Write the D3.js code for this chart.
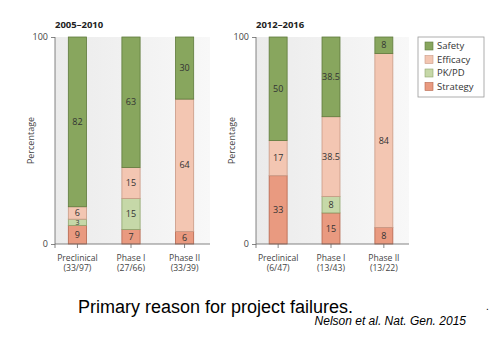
<!DOCTYPE html>
<html>
<head>
<meta charset="utf-8">
<script src="https://cdn.jsdelivr.net/npm/d3@7"></script>
<style>
  body { margin: 0; background: #fff; }
  svg { display: block; }
</style>
</head>
<body>
<div id="chart"></div>
<script>
// reasons, bottom to top of each bar
var reasons = ["Strategy", "PK/PD", "Efficacy", "Safety"];
var legendOrder = ["Safety", "Efficacy", "PK/PD", "Strategy"];
var colors = ["#e99a80", "#c6d8a8", "#f3c6b2", "#88a65e"];
var strokes = ["#b5654c", "#8ea46c", "#c99a86", "#5f7a3c"];

var phases = ["Preclinical", "Phase I", "Phase II"];

var titles = ["2005\u20132010", "2012\u20132016"];
var counts2005 = ["(33/97)", "(27/66)", "(33/39)"];
var counts2012 = ["(6/47)", "(13/43)", "(13/22)"];

// percentages per phase: [Strategy, PK/PD, Efficacy, Safety]
var values2005 = [[9, 3, 6, 82], [7, 15, 15, 63], [6, 0, 64, 30]];
var values2012 = [[33, 0, 17, 50], [15, 8, 38.5, 38.5], [8, 0, 84, 8]];

var yTicks = [0, 100];

var W = 489, H = 344;
var svg = d3.select("#chart").append("svg").attr("width", W).attr("height", H);

var defs = svg.append("defs");
var grad = defs.append("linearGradient").attr("id", "bg").attr("x1", 0).attr("x2", 1);
grad.append("stop").attr("offset", 0).attr("stop-color", "#ebebeb");
grad.append("stop").attr("offset", 1).attr("stop-color", "#f8f8f8");

var font = "'Open Sans', 'DejaVu Sans', sans-serif";

var panels = [
  {title: titles[0], counts: counts2005, values: values2005, x0: 55, x1: 210, b0: 56, b1: 206},
  {title: titles[1], counts: counts2012, values: values2012, x0: 256, x1: 409, b0: 257, b1: 405}
];

var plotTop = 37, plotBottom = 244;
var y = d3.scaleLinear().domain([0, 100]).range([plotBottom, plotTop]);

panels.forEach(function(p) {
  var g = svg.append("g");
  var x = d3.scaleBand().domain(phases).range([p.b0, p.b1]).paddingInner(0.66).paddingOuter(0.23);

  g.append("rect")
    .attr("x", p.x0).attr("y", plotTop)
    .attr("width", p.x1 - p.x0).attr("height", plotBottom - plotTop)
    .attr("fill", "url(#bg)");

  // stacked bars
  phases.forEach(function(ph, i) {
    var vals = p.values[i];
    var acc = 0;
    vals.forEach(function(v, k) {
      var y0 = acc, y1 = acc + v;
      acc = y1;
      if (v === 0) return;
      g.append("rect")
        .attr("x", x(ph)).attr("y", y(y1))
        .attr("width", x.bandwidth()).attr("height", y(y0) - y(y1))
        .attr("fill", colors[k]).attr("stroke", strokes[k]).attr("stroke-width", 0.8);
      g.append("text")
        .attr("x", x(ph) + x.bandwidth() / 2)
        .attr("y", (y(y0) + y(y1)) / 2)
        .attr("dy", "0.35em")
        .attr("text-anchor", "middle")
        .attr("font-family", font).attr("font-size", v < 5 ? 7 : 9)
        .attr("fill", "#333")
        .text(v);
    });
  });

  // axes
  var yAxis = d3.axisLeft(y).tickValues(yTicks).tickSize(4).tickFormat(d3.format("d"));
  var ya = g.append("g").attr("transform", "translate(" + p.x0 + ",0)").call(yAxis);
  ya.select(".domain").attr("d", "M0," + plotTop + "V" + (plotBottom + 4));
  var xa = g.append("g").attr("transform", "translate(0," + plotBottom + ")")
    .call(d3.axisBottom(x).tickSize(4).tickFormat(""));
  xa.select(".domain").attr("d", "M" + p.x0 + ",0H" + p.x1);
  [ya, xa].forEach(function(a) {
    a.selectAll("path, line").attr("stroke", "#666").attr("stroke-width", 0.8);
    a.selectAll("text").attr("font-family", font).attr("font-size", 9).attr("fill", "#444");
  });

  // category labels
  phases.forEach(function(ph, i) {
    var cx = x(ph) + x.bandwidth() / 2;
    g.append("text").attr("x", cx).attr("y", 260.5).attr("text-anchor", "middle")
      .attr("font-family", font).attr("font-size", 8.6).attr("fill", "#444").text(ph);
    g.append("text").attr("x", cx).attr("y", 271).attr("text-anchor", "middle")
      .attr("font-family", font).attr("font-size", 8.6).attr("fill", "#444").text(p.counts[i]);
  });

  g.append("text").attr("x", p.x0).attr("y", 28)
    .attr("font-family", font).attr("font-size", 9.5).attr("font-weight", "bold")
    .attr("fill", "#222").text(p.title);

  g.append("text")
    .attr("transform", "translate(" + (p.x0 - 21) + "," + ((plotTop + plotBottom) / 2) + ") rotate(-90)")
    .attr("text-anchor", "middle")
    .attr("font-family", font).attr("font-size", 9).attr("fill", "#444")
    .text("Percentage");
});

// legend
var lg = svg.append("g").attr("transform", "translate(418,37)");
lg.append("rect").attr("width", 66).attr("height", 60)
  .attr("fill", "#fff").attr("stroke", "#999").attr("stroke-width", 0.8);
legendOrder.forEach(function(name, i) {
  var k = reasons.indexOf(name);
  var row = lg.append("g").attr("transform", "translate(7," + (5 + i * 13.5) + ")");
  row.append("rect").attr("width", 8).attr("height", 8)
    .attr("fill", colors[k]).attr("stroke", strokes[k]).attr("stroke-width", 0.6);
  row.append("text").attr("x", 12).attr("y", 4).attr("dy", "0.35em")
    .attr("font-family", font).attr("font-size", 9.5).attr("fill", "#333").text(name);
});

// caption
svg.append("text").attr("x", 78).attr("y", 313)
  .attr("font-family", "'Liberation Sans', Arial, sans-serif").attr("font-size", 18)
  .attr("fill", "#000").text("Primary reason for project failures.");
svg.append("text").attr("x", 466).attr("y", 325).attr("text-anchor", "end")
  .attr("font-family", "'Liberation Sans', Arial, sans-serif").attr("font-size", 12)
  .attr("font-style", "italic").attr("fill", "#000").text("Nelson et al. Nat. Gen. 2015");
svg.append("text").attr("x", 486).attr("y", 310)
  .attr("font-family", "'Liberation Sans', Arial, sans-serif").attr("font-size", 10)
  .attr("fill", "#000").text(".");
</script>
</body>
</html>
